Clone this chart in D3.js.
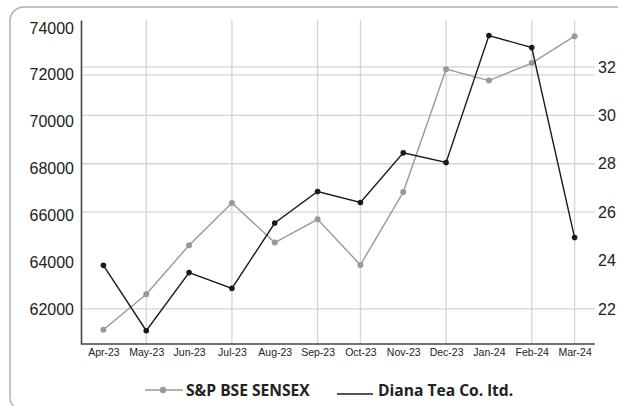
<!DOCTYPE html>
<html><head><meta charset="utf-8">
<script src="https://cdn.jsdelivr.net/npm/d3@7"></script>
<style>body{margin:0;background:#fff}svg{display:block;font-family:"Open Sans",sans-serif}</style>
</head><body><svg id="c" width="618" height="406"></svg>
<script>
const months = ["Apr-23","May-23","Jun-23","Jul-23","Aug-23","Sep-23","Oct-23","Nov-23","Dec-23","Jan-24","Feb-24","Mar-24"];
const sensex = [61112,62622,64719,66527,64831,65828,63875,66988,72240,71752,72500,73651];
const diana = [23.8,21.1,23.5,22.85,25.55,26.85,26.4,28.45,28.05,33.3,32.8,24.95];
const leftTicks = [62000,64000,66000,68000,70000,72000,74000];
const rightTicks = [22,24,26,28,30,32];
const vGrid = ["May-23","Jul-23","Sep-23","Oct-23","Dec-23","Feb-24","Mar-24"];
const hGridLeft = [72000];
const hGridRight = [22,26,28,30,32];
const seriesNames = ["S&P BSE SENSEX","Diana Tea Co. ltd."];

const svg = d3.select("#c");
const L=81, R=595, T=20, B=344;
const x = d3.scalePoint().domain(months).range([L+1, R+1]).padding(0.5);
const yL = d3.scaleLinear().domain([60500,74340]).range([B,T]);
const yR = d3.scaleLinear().domain([20.55,33.94]).range([B,T]);

// frame
svg.append("rect").attr("x",10).attr("y",7).attr("width",640).attr("height",404).attr("rx",14)
  .attr("fill","none").attr("stroke","#b0b0b0").attr("stroke-width",1.5);

const g = svg.append("g");
// grid
g.selectAll(".vg").data(vGrid).join("line").attr("x1",d=>x(d)).attr("x2",d=>x(d)).attr("y1",T).attr("y2",B)
  .attr("stroke","#d4d4d4").attr("stroke-width",1.3);
g.selectAll(".hgl").data(hGridLeft).join("line").attr("x1",L).attr("x2",R).attr("y1",d=>yL(d)).attr("y2",d=>yL(d))
  .attr("stroke","#d4d4d4").attr("stroke-width",1.3);
g.selectAll(".hgr").data(hGridRight).join("line").attr("x1",L).attr("x2",R).attr("y1",d=>yR(d)).attr("y2",d=>yR(d))
  .attr("stroke","#d4d4d4").attr("stroke-width",1.3);

// axes
const axL = g.append("g").attr("transform",`translate(${L},0)`).call(d3.axisLeft(yL).tickValues(leftTicks).tickSize(0).tickPadding(7).tickFormat(d3.format("d")));
axL.select(".domain").attr("stroke","#444").attr("stroke-width",1.6);
axL.selectAll("text").attr("font-size",16).attr("fill","#222");
const axR = g.append("g").attr("transform",`translate(${R},0)`).call(d3.axisRight(yR).tickValues(rightTicks).tickSize(0).tickPadding(3));
axR.select(".domain").remove();
axR.selectAll("text").attr("font-size",16).attr("fill","#222");
const axB = g.append("g").attr("transform",`translate(0,${B})`).call(d3.axisBottom(x).tickSize(0).tickPadding(5));
axB.select(".domain").attr("stroke","#444").attr("stroke-width",1.6).attr("d",`M${L},0H${R}`);
axB.selectAll("text").attr("font-size",10.5).attr("fill","#222");

// series
const lineL = d3.line().x((d,i)=>x(months[i])).y(d=>yL(d));
const lineR = d3.line().x((d,i)=>x(months[i])).y(d=>yR(d));
g.append("path").datum(sensex).attr("d",lineL).attr("fill","none").attr("stroke","#999").attr("stroke-width",1.4);
g.selectAll(".ps").data(sensex).join("circle").attr("cx",(d,i)=>x(months[i])).attr("cy",d=>yL(d)).attr("r",3).attr("fill","#999");
g.append("path").datum(diana).attr("d",lineR).attr("fill","none").attr("stroke","#1a1a1a").attr("stroke-width",1.4);
g.selectAll(".pd").data(diana).join("circle").attr("cx",(d,i)=>x(months[i])).attr("cy",d=>yR(d)).attr("r",2.8).attr("fill","#1a1a1a");

// legend
const lg = svg.append("g");
lg.append("line").attr("x1",145).attr("x2",183).attr("y1",390).attr("y2",390).attr("stroke","#999").attr("stroke-width",1.4);
lg.append("circle").attr("cx",163).attr("cy",390).attr("r",3.2).attr("fill","#999");
lg.append("text").attr("x",186).attr("y",395.5).attr("font-size",15.6).attr("font-weight","bold").attr("fill","#222").text(seriesNames[0]);
lg.append("line").attr("x1",337).attr("x2",373).attr("y1",394).attr("y2",394).attr("stroke","#1a1a1a").attr("stroke-width",1.4);
lg.append("text").attr("x",378).attr("y",395.5).attr("font-size",15.6).attr("font-weight","bold").attr("fill","#222").text(seriesNames[1]);
</script></body></html>
